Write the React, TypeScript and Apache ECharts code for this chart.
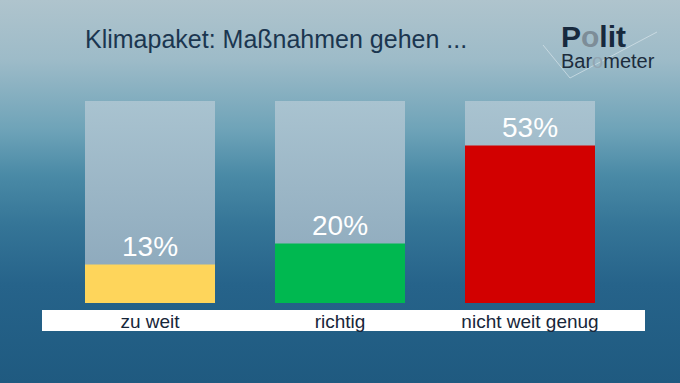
import React, { useEffect, useRef } from "react";
import * as echarts from "echarts";

const categories = ["zu weit", "richtig", "nicht weit genug"];
const values = [13, 20, 53];
const barColors = ["#fed55b", "#00b850", "#d20000"];
const scaleMax = 68;
const titleText = "Klimapaket: Maßnahmen gehen ...";

export default function App() {
  const ref = useRef<HTMLDivElement>(null);
  useEffect(() => {
    if (!ref.current) return;
    const chart = echarts.init(ref.current, null, { renderer: "svg" });
    const font = "'Liberation Sans', Arial, sans-serif";
    chart.setOption({
      animation: false,
      title: {
        text: titleText,
        left: 80,
        top: 21,
        textStyle: { color: "#1b3650", fontSize: 25, fontWeight: "normal", fontFamily: font },
      },
      grid: { left: 55, right: 55, top: 101, bottom: 80 },
      xAxis: {
        type: "category",
        data: categories,
        axisLine: { show: false },
        axisTick: { show: false },
        axisLabel: { color: "#17263a", fontSize: 19, fontFamily: font, margin: 9 },
      },
      yAxis: { type: "value", min: 0, max: scaleMax, show: false },
      graphic: [
        {
          type: "rect",
          shape: { x: 42, y: 310, width: 603, height: 21 },
          style: { fill: "#ffffff" },
          z: 0,
        },
        {
          type: "polyline",
          shape: { points: [[543, 45], [570, 78], [657, 32]] },
          style: { stroke: "rgba(225,235,240,0.6)", lineWidth: 1, fill: null },
          z: 1,
        },
        {
          type: "text",
          x: 561,
          y: 21,
          style: {
            text: "{a|P}{b|o}{a|lit}\n{c|Bar}{d|o}{c|meter}",
            rich: {
              a: { fontSize: 30, lineHeight: 30, fontWeight: "bold", fill: "#17293d", fontFamily: font },
              b: { fontSize: 30, lineHeight: 30, fontWeight: "bold", fill: "#7d8d98", fontFamily: font },
              c: { fontSize: 20, lineHeight: 20, fill: "#1c2c3c", fontFamily: font },
              d: { fontSize: 20, lineHeight: 20, fill: "#93a6b2", fontFamily: font },
            },
          },
          z: 2,
        },
      ],
      series: [
        {
          type: "bar",
          barWidth: 130,
          barGap: "-100%",
          silent: true,
          data: categories.map(() => scaleMax),
          itemStyle: {
            color: new echarts.graphic.LinearGradient(0, 0, 0, 1, [
              { offset: 0, color: "#a9c3d0" },
              { offset: 1, color: "#89a5b9" },
            ]),
          },
          z: 1,
        },
        {
          type: "bar",
          barWidth: 130,
          barGap: "-100%",
          data: values.map((v, i) => ({ value: v, itemStyle: { color: barColors[i] } })),
          label: {
            show: true,
            position: "top",
            distance: 4,
            formatter: "{c}%",
            color: "#ffffff",
            fontSize: 28,
            fontFamily: font,
          },
          z: 3,
        },
      ],
    });
    return () => chart.dispose();
  }, []);
  return (
    <div
      ref={ref}
      style={{
        position: "fixed",
        left: 0,
        top: 0,
        width: 680,
        height: 383,
        background:
          "linear-gradient(to bottom, #afc4cd 0px, #9dbbc8 60px, #6ea3b8 130px, #4a8aa6 175px, #357597 225px, #26638a 285px, #1f5a80 383px)",
      }}
    />
  );
}
